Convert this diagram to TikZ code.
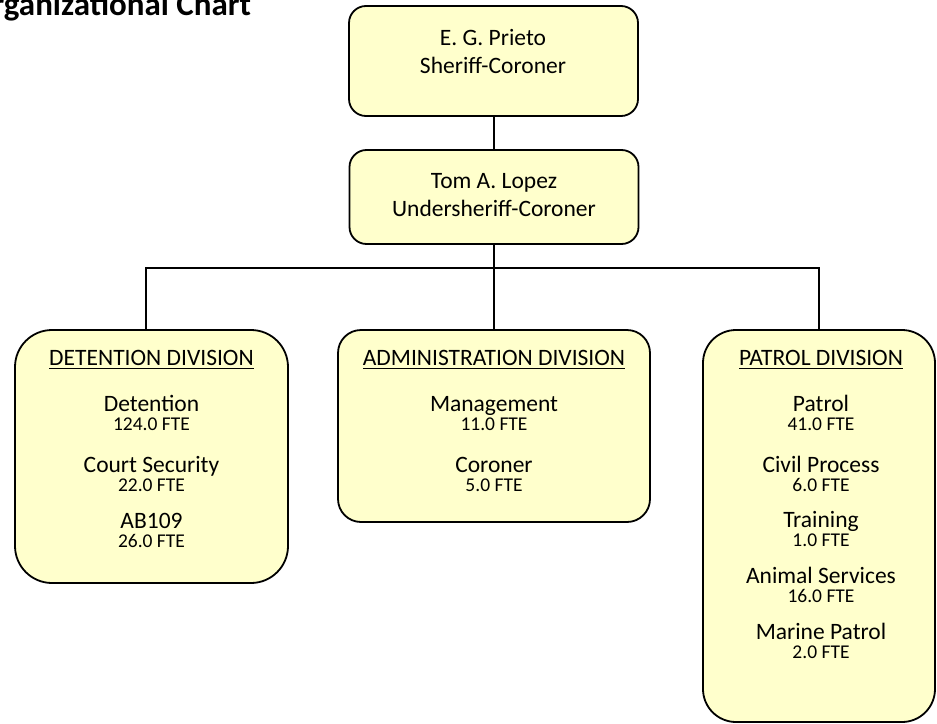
\documentclass[tikz,border=0pt]{standalone}
\usepackage{fontspec}
\setmainfont{Carlito}
\usepackage{xcolor}
\definecolor{boxyellow}{RGB}{255,255,204}

\begin{document}
\begin{tikzpicture}[x=1pt, y=-1pt,
	unitbox/.style={draw=black, line width=1.8pt, fill=boxyellow, inner sep=0pt},
	wire/.style={draw=black, line width=1.5pt},
	txt/.style={anchor=base, inner sep=0pt, outer sep=0pt}]
				\newcommand{\orgname}[1]{
					\fontsize{23.5}{28}\selectfont{#1}
				}\newcommand{\orgfte}[1]{
					\fontsize{19.5}{24}\selectfont{#1}
				}%Page frame
				\useasboundingbox (0,0) rectangle (937,723);
				%Title, cut at the page edge
				\node [txt, anchor=base east] (title) at (251,15) {\fontsize{33}{40}\selectfont\bfseries Organizational Chart};
				%Boxes
				\node [unitbox, rounded corners=17pt, minimum width=289pt, minimum height=110pt] (sheriff) at (493.5,61) {};
				\node [unitbox, rounded corners=17pt, minimum width=289pt, minimum height=94pt] (under) at (494,197) {};
				\node [unitbox, rounded corners=37pt, minimum width=273pt, minimum height=253pt] (detention) at (151.5,456.5) {};
				\node [unitbox, rounded corners=23pt, minimum width=312pt, minimum height=192pt] (admin) at (494,426) {};
				\node [unitbox, rounded corners=33pt, minimum width=232pt, minimum height=392pt] (patrol) at (819,526) {};
				%Lines between the boxes
				\coordinate (bus) at (494,268);
				\coordinate (detin) at (146,330);
				\draw [wire] (sheriff.south -| under.north) -- (under.north);
				\draw [wire] (under.south) -- (admin.north);
				\draw [wire] (detin) |- (bus) -| (patrol.north);
				%Sheriff
				\node [txt] (sheriff1) at (493,45) {\orgname{E. G. Prieto}};
				\node [txt] (sheriff2) at (493,73) {\orgname{Sheriff-Coroner}};
				%Undersheriff
				\node [txt] (under1) at (494,188) {\orgname{Tom A. Lopez}};
				\node [txt] (under2) at (494,216) {\orgname{Undersheriff-Coroner}};
				%Detention division
				\node [txt] (dethead) at (151.5,365) {\orgname{DETENTION DIVISION}};
				\draw [line width=1.3pt] ([yshift=-3.5pt]dethead.base west) -- ([yshift=-3.5pt]dethead.base east);
				\node [txt] (det1) at (151.5,411) {\orgname{Detention}};
				\node [txt] (det1f) at (151.5,430) {\orgfte{124.0 FTE}};
				\node [txt] (det2) at (151.5,472) {\orgname{Court Security}};
				\node [txt] (det2f) at (151.5,491) {\orgfte{22.0 FTE}};
				\node [txt] (det3) at (151.5,528) {\orgname{AB109}};
				\node [txt] (det3f) at (151.5,547) {\orgfte{26.0 FTE}};
				%Administration division
				\node [txt] (admhead) at (494,365) {\orgname{ADMINISTRATION DIVISION}};
				\draw [line width=1.3pt] ([yshift=-3.5pt]admhead.base west) -- ([yshift=-3.5pt]admhead.base east);
				\node [txt] (adm1) at (494,411) {\orgname{Management}};
				\node [txt] (adm1f) at (494,430) {\orgfte{11.0 FTE}};
				\node [txt] (adm2) at (494,472) {\orgname{Coroner}};
				\node [txt] (adm2f) at (494,491) {\orgfte{5.0 FTE}};
				%Patrol division
				\node [txt] (pathead) at (821,365) {\orgname{PATROL DIVISION}};
				\draw [line width=1.3pt] ([yshift=-3.5pt]pathead.base west) -- ([yshift=-3.5pt]pathead.base east);
				\node [txt] (pat1) at (821,411) {\orgname{Patrol}};
				\node [txt] (pat1f) at (821,430) {\orgfte{41.0 FTE}};
				\node [txt] (pat2) at (821,472) {\orgname{Civil Process}};
				\node [txt] (pat2f) at (821,491) {\orgfte{6.0 FTE}};
				\node [txt] (pat3) at (821,527) {\orgname{Training}};
				\node [txt] (pat3f) at (821,546) {\orgfte{1.0 FTE}};
				\node [txt] (pat4) at (821,583) {\orgname{Animal Services}};
				\node [txt] (pat4f) at (821,602) {\orgfte{16.0 FTE}};
				\node [txt] (pat5) at (821,639) {\orgname{Marine Patrol}};
				\node [txt] (pat5f) at (821,658) {\orgfte{2.0 FTE}};
\end{tikzpicture}
\end{document}
